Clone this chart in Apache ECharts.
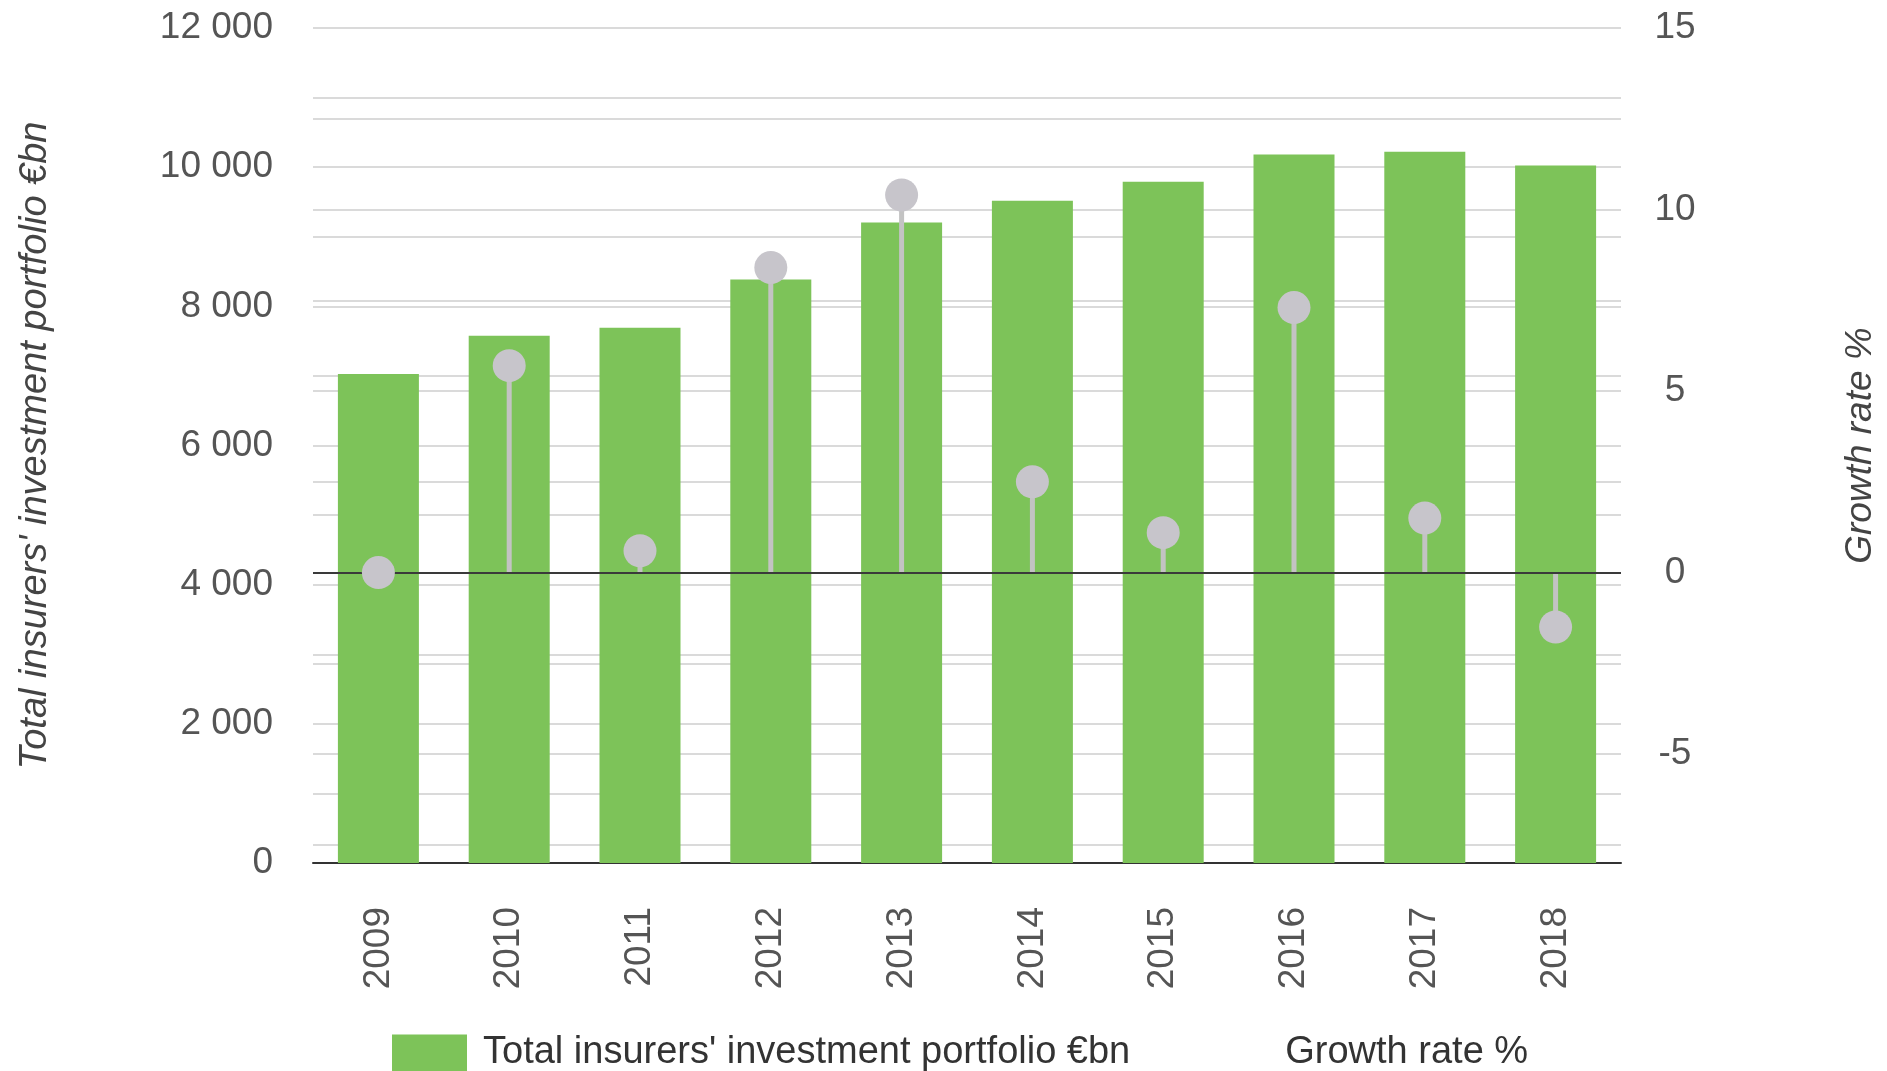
<!DOCTYPE html>
<html>
<head>
<meta charset="utf-8">
<script src="https://cdn.jsdelivr.net/npm/echarts@6/dist/echarts.min.js"></script>
<style>
  html, body { margin: 0; padding: 0; background: #ffffff; }
  #chart { width: 1887px; height: 1071px; }
</style>
</head>
<body>
<div id="chart"></div>
<script>
// ---- data ----
const years = ['2009', '2010', '2011', '2012', '2013', '2014', '2015', '2016', '2017', '2018'];
const portfolio = [7026, 7576, 7691, 8386, 9205, 9516, 9789, 10182, 10220, 10024];
const growth = [0.0, 5.7, 0.6, 8.4, 10.4, 2.5, 1.1, 7.3, 1.5, -1.5];
const leftTicks = [0, 2000, 4000, 6000, 8000, 10000, 12000];
const rightTicks = [-5, 0, 5, 10, 15];
const rightGrid = [-7.5, -5, -2.5, 0, 2.5, 5, 7.5, 10, 12.5, 15];
const nameBar = "Total insurers' investment portfolio €bn";
const nameGrowth = 'Growth rate %';

const FONT = "'Liberation Sans', Arial, sans-serif";
const fmt = v => {
  const s = String(Math.round(v));
  return s.replace(/\B(?=(\d{3})+(?!\d))/g, ' ');
};

const chart = echarts.init(document.getElementById('chart'), null, { renderer: 'canvas' });
chart.setOption({
  animation: false,
  backgroundColor: '#ffffff',
  textStyle: { fontFamily: FONT },
  grid: { left: 313, right: 261, top: 28, bottom: 208, containLabel: false },
  legend: {
    left: 387,
    top: 1029,
    itemWidth: 75,
    itemHeight: 37,
    itemGap: 64,
    textStyle: { fontSize: 38, color: '#333', fontFamily: FONT, padding: [0, 0, 0, 11] },
    data: [
      { name: nameBar, icon: 'rect' },
      { name: nameGrowth, icon: 'rect', itemStyle: { color: 'rgba(0,0,0,0)', opacity: 0 } }
    ],
    selectedMode: false
  },
  xAxis: [
    {
      type: 'category',
      data: years,
      axisLine: { show: true, onZero: false, lineStyle: { color: '#333', width: 2 } },
      axisTick: { show: false },
      axisLabel: { rotate: 90, margin: 44, fontSize: 37, color: '#555', fontFamily: FONT },
      splitLine: { show: false }
    },
    {
      type: 'category',
      data: years,
      show: false
    }
  ],
  yAxis: [
    {
      type: 'value',
      position: 'left',
      min: 0,
      max: 12000,
      interval: 1000,
      name: nameBar,
      nameLocation: 'middle',
      nameRotate: 90,
      nameGap: 259,
      nameTextStyle: { fontSize: 38, fontStyle: 'italic', color: '#444', fontFamily: FONT },
      axisLine: { show: false },
      axisTick: { show: false },
      axisLabel: {
        fontSize: 37, color: '#555', margin: 40, fontFamily: FONT,
        formatter: v => (leftTicks.indexOf(v) >= 0 ? fmt(v) : '')
      },
      splitLine: { show: true, lineStyle: { color: '#dadada', width: 2 } }
    },
    {
      type: 'value',
      position: 'right',
      min: -8,
      max: 15,
      name: nameGrowth,
      nameLocation: 'middle',
      nameRotate: 90,
      nameGap: 221,
      nameTextStyle: { fontSize: 37, fontStyle: 'italic', color: '#444', fontFamily: FONT },
      axisLine: { show: false },
      axisTick: { show: false, customValues: rightGrid },
      axisLabel: {
        customValues: rightTicks,
        fontSize: 37, color: '#555', margin: 54, align: 'center', fontFamily: FONT,
        formatter: v => String(v)
      },
      splitLine: { show: true, lineStyle: { color: '#dadada', width: 2 } }
    }
  ],
  series: [
    {
      name: nameBar,
      type: 'bar',
      xAxisIndex: 0,
      yAxisIndex: 0,
      data: portfolio,
      barWidth: 81,
      itemStyle: { color: '#7dc359' },
      z: 2
    },
    {
      name: 'stem',
      type: 'bar',
      xAxisIndex: 1,
      yAxisIndex: 1,
      data: growth,
      barWidth: 5,
      itemStyle: { color: '#c3c3c3' },
      z: 3,
      markLine: {
        silent: true,
        symbol: 'none',
        z: 5,
        label: { show: false },
        lineStyle: { color: '#3a3a3a', width: 2, type: 'solid' },
        data: [{ yAxis: 0 }]
      }
    },
    {
      name: nameGrowth,
      type: 'scatter',
      xAxisIndex: 1,
      yAxisIndex: 1,
      data: growth,
      symbol: 'circle',
      symbolSize: 33,
      itemStyle: { color: '#c7c5cb', opacity: 1 },
      z: 10
    }
  ]
});
</script>
</body>
</html>
